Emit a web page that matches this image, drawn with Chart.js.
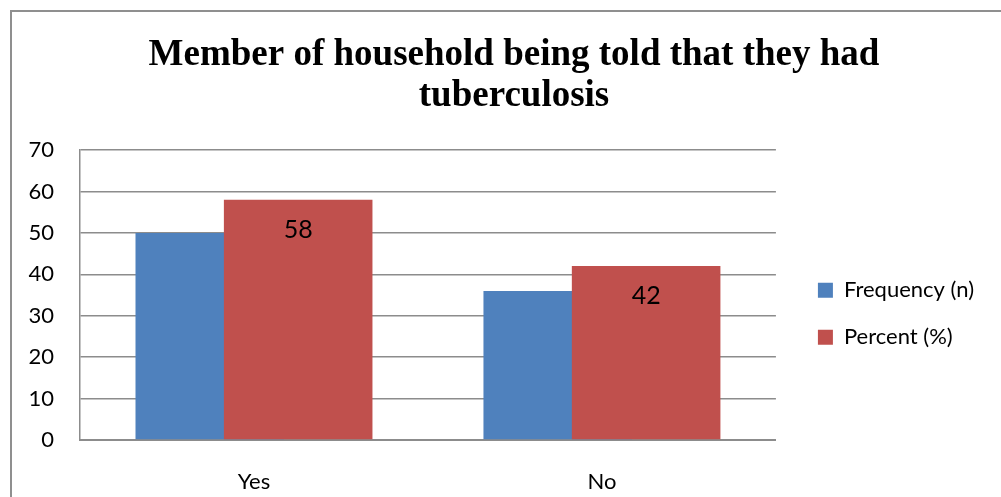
<!DOCTYPE html>
<html>
<head>
<meta charset="utf-8">
<script src="https://cdn.jsdelivr.net/npm/chart.js@4/dist/chart.umd.min.js"></script>
<style>
  html, body { margin: 0; padding: 0; background: #fff; }
  #wrap { width: 1001px; height: 497px; position: relative; }
</style>
</head>
<body>
<div id="wrap"><canvas id="chart"></canvas></div>
<script>
// Data
const categories = ['Yes', 'No'];
const frequency = [50, 36];
const percent = [58, 42];
const yMin = 0, yMax = 70, yStep = 10;

const titleLines = ['Member of household being told that they had', 'tuberculosis'];
const gridGray = '#8c8c8c';
const bodyFont = 'Lato, "Open Sans", sans-serif';
const titleFont = '"Liberation Serif", "Times New Roman", serif';

// Excel-style overlapping bars: shift each series within its category
const overlapShift = {
    id: 'overlapShift',
    afterDatasetsUpdate(chart) {
        const x = chart.scales.x;
        const step = x.width / categories.length;
        chart.data.datasets.forEach((ds, i) => {
            const meta = chart.getDatasetMeta(i);
            meta.data.forEach(bar => { bar.x += ds.shift * step; });
        });
    }
};

// Value labels inside the red bars
const valueLabels = {
    id: 'valueLabels',
    afterDatasetsDraw(chart) {
        const ctx = chart.ctx;
        ctx.save();
        ctx.font = '25px ' + bodyFont;
        ctx.fillStyle = '#000';
        ctx.textAlign = 'center';
        ctx.textBaseline = 'middle';
        chart.data.datasets.forEach((ds, i) => {
            if (!ds.showValues) return;
            chart.getDatasetMeta(i).data.forEach((bar, j) => {
                ctx.fillText(String(ds.data[j]), bar.x, bar.y + 30);
            });
        });
        ctx.restore();
    }
};

// Outer frame (only top and left edges fall inside the picture)
const frame = {
    id: 'frame',
    beforeDraw(chart) {
        const ctx = chart.ctx;
        ctx.save();
        ctx.strokeStyle = '#8f8f8f';
        ctx.lineWidth = 2;
        ctx.strokeRect(11, 11, 1200, 700);
        ctx.restore();
    }
};

// empty right-hand spacer axes (one between plot and legend, one outside the legend)
function spacer(width, weight) {
    return {
        position: 'right',
        display: true,
        weight: weight,
        grid: { display: false },
        ticks: { display: false },
        border: { display: false },
        afterFit(scale) { scale.width = width; }
    };
}

function drawChart() {
    new Chart(document.getElementById('chart'), {
        type: 'bar',
        data: {
            labels: categories,
            datasets: [
                {
                    label: 'Frequency (n)',
                    data: frequency,
                    backgroundColor: '#4F81BD',
                    shift: -0.127,
                    order: 2
                },
                {
                    label: 'Percent (%)',
                    data: percent,
                    backgroundColor: '#C0504D',
                    shift: 0.127,
                    showValues: true,
                    order: 1
                }
            ]
        },
        options: {
            responsive: true,
            maintainAspectRatio: false,
            animation: false,
            layout: { autoPadding: false, padding: { left: 27, right: 0, top: 0, bottom: 0 } },
            datasets: {
                bar: { grouped: false, categoryPercentage: 1, barPercentage: 0.427 }
            },
            plugins: {
                title: {
                    display: true,
                    text: titleLines,
                    color: '#000',
                    font: { family: titleFont, size: 37, weight: 'bold', lineHeight: 1.11 },
                    padding: { top: 35, bottom: 33 }
                },
                legend: {
                    position: 'right',
                    fullSize: false,
                    maxWidth: 400,
                    title: { display: true, text: ' ', font: { size: 21 }, padding: { top: 6, bottom: 6 } },
                    labels: {
                        color: '#000',
                        font: { family: bodyFont, size: 22 },
                        boxWidth: 15,
                        boxHeight: 15,
                        padding: 25,
                        sort: (a, b) => a.datasetIndex - b.datasetIndex
                    }
                },
                tooltip: { enabled: false }
            },
            scales: {
                x: {
                    grid: { display: false },
                    border: { display: true, color: gridGray, width: 2 },
                    ticks: { color: '#000', font: { family: bodyFont, size: 22 }, padding: 21 },
                    afterFit(scale) { scale.height = 57; }
                },
                y: {
                    min: yMin,
                    max: yMax,
                    ticks: { stepSize: yStep, color: '#000', font: { family: bodyFont, size: 22 }, padding: 26 },
                    grid: { color: gridGray, lineWidth: 1.5, drawTicks: false },
                    border: { display: true, color: gridGray, width: 1.5 },
                    afterFit(scale) { scale.width = 53; }
                },
                gap: spacer(17, 0),
                edge: spacer(17, 2000)
            }
        },
        plugins: [overlapShift, valueLabels, frame]
    });
}

Promise.all([
    document.fonts.load('22px Lato'),
    document.fonts.load('bold 37px "Liberation Serif"')
]).then(drawChart, drawChart);
</script>
</body>
</html>
